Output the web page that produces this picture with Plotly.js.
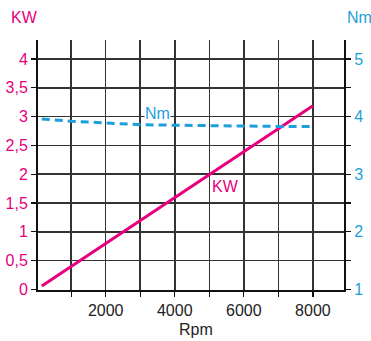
<!DOCTYPE html>
<html><head><meta charset="utf-8">
<script src="https://cdn.plot.ly/plotly-3.0.1.min.js"></script>
<style>html,body{margin:0;padding:0;background:#fff}#c{width:371px;height:341px}</style>
</head><body><div id="c"></div>
<script>
var rpmKW = [150, 2000, 4000, 6000, 8000];
var kw = [0.06, 0.80, 1.60, 2.39, 3.19];
var rpmNm = [150, 1000, 2000, 3000, 4000, 5000, 6000, 7000, 8000];
var nm = [3.96, 3.92, 3.89, 3.86, 3.85, 3.84, 3.84, 3.83, 3.83];
var xTicks = [1000,2000,3000,4000,5000,6000,7000,8000];
var xTickText = ['','2000','','4000','','6000','','8000'];
var kwTicks = [0,0.5,1,1.5,2,2.5,3,3.5,4];
var kwTickText = ['0','0,5','1','1,5','2','2,5','3','3,5','4'];
var nmTicks = [1,1.5,2,2.5,3,3.5,4,4.5,5];
var nmTickText = ['1','','2','','3','','4','','5'];

var MAG = '#e6007e', CY = '#1d9fdc';
var F = 'Liberation Sans Narrow, Liberation Sans, Arial, sans-serif';

var traces = [
  {x: rpmNm, y: nm, yaxis: 'y2', mode: 'lines', line: {color: CY, width: 3, dash: '8px,5px'}, hoverinfo: 'skip'},
  {x: rpmKW, y: kw, mode: 'lines', line: {color: MAG, width: 3}, hoverinfo: 'skip'}
];
var layout = {
  width: 371, height: 341,
  margin: {l: 38, r: 27, t: 40, b: 51},
  paper_bgcolor: '#fff', plot_bgcolor: '#fff',
  showlegend: false,
  font: {family: F, size: 16, color: '#222'},
  xaxis: {range: [40, 8900], tickvals: xTicks, ticktext: xTickText,
    showgrid: true, gridcolor: '#333', gridwidth: 1.5,
    showline: true, linecolor: '#111', linewidth: 2,
    ticks: 'outside', ticklen: 5, tickwidth: 1.2, tickcolor: '#111',
    tickfont: {family: F, size: 16, color: '#222'}, zeroline: false, fixedrange: true},
  yaxis: {range: [-0.01, 4.33], tickvals: kwTicks, ticktext: kwTickText,
    showgrid: true, gridcolor: '#333', gridwidth: 1.5,
    showline: true, linecolor: '#111', linewidth: 2,
    ticks: 'outside', ticklen: 5, tickwidth: 1.2, tickcolor: '#111',
    tickfont: {family: F, size: 16, color: MAG}, zeroline: false, fixedrange: true},
  yaxis2: {range: [0.99, 5.33], overlaying: 'y', side: 'right',
    tickvals: nmTicks, ticktext: nmTickText, showgrid: false,
    showline: true, linecolor: '#111', linewidth: 2,
    ticks: 'outside', ticklen: 5, tickwidth: 1.2, tickcolor: '#111',
    tickfont: {family: F, size: 16, color: CY}, zeroline: false, fixedrange: true},
  annotations: [
    {text: 'KW', xref: 'paper', yref: 'paper', x: -14/306, y: 1+22/250, xanchor: 'center', yanchor: 'middle', showarrow: false, font: {family: F, size: 16, color: MAG}},
    {text: 'Nm', xref: 'paper', yref: 'paper', x: (359.5-38)/306, y: 1+22/250, xanchor: 'center', yanchor: 'middle', showarrow: false, font: {family: F, size: 16, color: CY}},
    {text: 'Rpm', xref: 'paper', yref: 'paper', x: (196-38)/306, y: -(329-290)/250, xanchor: 'center', yanchor: 'middle', showarrow: false, font: {family: F, size: 16, color: '#222'}},
    {text: 'Nm', xref: 'x', yref: 'y', x: 3510, y: 3.06, xanchor: 'center', yanchor: 'middle', showarrow: false, bgcolor: '#fff', borderpad: 0, font: {family: F, size: 16, color: CY}},
    {text: 'KW', xref: 'x', yref: 'y', x: 5470, y: 1.78, xanchor: 'center', yanchor: 'middle', showarrow: false, font: {family: F, size: 16, color: MAG}}
  ]
};
Plotly.newPlot('c', traces, layout, {displayModeBar: false, staticPlot: true});
</script></body></html>
